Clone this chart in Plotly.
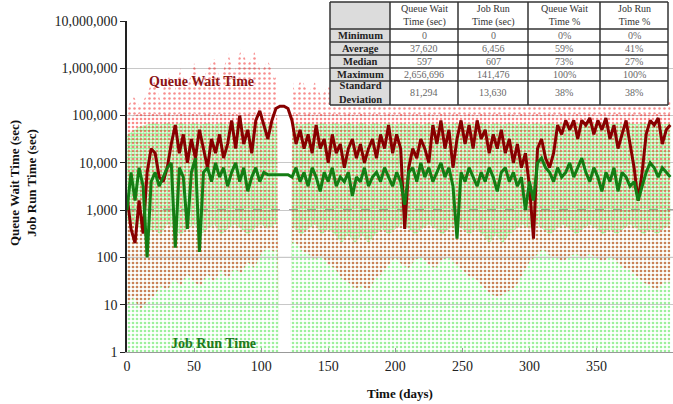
import plotly.graph_objects as go

# ---------------- data ----------------
# days at which the scatter-cloud envelopes were read off the picture
cloud_days = [0, 5, 10, 15, 20, 25, 30, 35, 40, 45,
              50, 55, 60, 65, 70, 75, 80, 85, 90, 95,
              100, 105, 110, 112, 113, 122, 123, 125, 130, 135,
              140, 145, 150, 155, 160, 165, 170, 175, 180, 185,
              190, 195, 200, 205, 210, 215, 220, 225, 230, 235,
              240, 245, 250, 255, 260, 265, 270, 275, 280, 285,
              290, 295, 300, 305, 310, 315, 320, 325, 330, 335,
              340, 345, 350, 355, 360, 365, 370, 375, 380, 385,
              390, 395, 400, 405]

# job run time points: lower edge of the dense band
green_dense_low = [600, 500, 400, 300, 400, 300, 500, 400, 300, 400,
                   500, 300, 400, 500, 300, 400, 500, 400, 300, 400,
                   500, 400, 500, 500, 1, 1, 500, 400, 300, 400,
                   500, 300, 400, 300, 200, 300, 200, 300, 200, 300,
                   400, 300, 400, 500, 400, 300, 400, 500, 400, 300,
                   400, 500, 400, 300, 400, 300, 200, 300, 200, 300,
                   400, 500, 400, 500, 400, 300, 400, 500, 400, 300,
                   400, 500, 400, 300, 400, 300, 400, 500, 400, 300,
                   400, 300, 400, 500]
# job run time points: upper edge
green_top = [40000, 50000, 60000, 65000, 70000, 65000, 70000, 65000, 70000, 65000,
             70000, 65000, 70000, 65000, 70000, 65000, 70000, 65000, 70000, 65000,
             70000, 65000, 70000, 65000, 1, 1, 65000, 70000, 65000, 70000,
             65000, 70000, 65000, 70000, 65000, 70000, 65000, 70000, 65000, 70000,
             65000, 70000, 65000, 70000, 65000, 70000, 65000, 70000, 65000, 70000,
             65000, 70000, 65000, 70000, 65000, 70000, 65000, 70000, 65000, 70000,
             65000, 70000, 65000, 70000, 65000, 70000, 65000, 70000, 65000, 70000,
             65000, 70000, 65000, 70000, 65000, 70000, 65000, 70000, 65000, 70000,
             65000, 70000, 65000, 70000]
# queue wait points: lower edge
red_low = [10, 14, 8, 12, 15, 25, 20, 35, 25, 45,
           30, 25, 45, 30, 55, 35, 60, 45, 80, 60,
           120, 160, 130, 150, 1, 1, 200, 220, 140, 120,
           90, 110, 70, 60, 35, 30, 22, 25, 20, 35,
           45, 70, 100, 70, 60, 90, 100, 70, 60, 90,
           100, 70, 55, 40, 35, 25, 18, 15, 16, 20,
           25, 45, 80, 110, 150, 110, 100, 80, 110, 120,
           90, 120, 100, 80, 110, 80, 60, 55, 40, 30,
           25, 20, 30, 30]
# queue wait points: top of the dense band
red_top = [90000, 100000, 110000, 100000, 110000, 100000, 110000, 100000, 110000, 100000,
           110000, 100000, 110000, 100000, 110000, 100000, 110000, 100000, 110000, 100000,
           110000, 100000, 110000, 100000, 1, 1, 100000, 110000, 100000, 110000,
           100000, 110000, 100000, 110000, 100000, 110000, 100000, 110000, 100000, 110000,
           100000, 110000, 100000, 110000, 100000, 110000, 100000, 110000, 100000, 110000,
           100000, 110000, 100000, 110000, 100000, 110000, 100000, 110000, 100000, 110000,
           100000, 110000, 100000, 110000, 100000, 110000, 100000, 110000, 100000, 110000,
           100000, 110000, 100000, 110000, 100000, 110000, 100000, 110000, 100000, 110000,
           100000, 110000, 100000, 110000]
# queue wait points: sparse spikes above the band
red_spike = [150000, 250000, 150000, 300000, 600000, 200000, 900000, 300000, 1000000, 400000,
             1300000, 400000, 1000000, 1600000, 500000, 2200000, 800000, 2600000, 1200000, 2200000,
             800000, 1500000, 600000, 900000, 1, 1, 700000, 300000, 600000, 300000,
             500000, 250000, 450000, 250000, 400000, 250000, 350000, 250000, 300000, 250000,
             300000, 200000, 300000, 200000, 300000, 200000, 300000, 200000, 300000, 200000,
             300000, 200000, 300000, 200000, 300000, 200000, 300000, 200000, 300000, 200000,
             300000, 200000, 300000, 200000, 300000, 200000, 300000, 200000, 300000, 200000,
             300000, 200000, 300000, 200000, 300000, 200000, 300000, 200000, 300000, 200000,
             300000, 200000, 300000, 200000]

# daily averages (lines), read every 3 days
line_days = list(range(0, 406, 3))
queue_wait_avg = [2000, 400, 200, 1600, 320, 6300, 20000, 16000, 5000, 4000,
                  7900, 25000, 63000, 16000, 40000, 10000, 32000, 12600, 50000, 20000,
                  7900, 32000, 16000, 40000, 12600, 25000, 79000, 20000, 100000, 25000,
                  50000, 16000, 79000, 126000, 63000, 32000, 79000, 141000, 158000, 158000,
                  141000, 79000, 25000, 50000, 20000, 40000, 16000, 63000, 20000, 32000,
                  10000, 40000, 16000, 25000, 7900, 20000, 32000, 12600, 25000, 10000,
                  20000, 32000, 12600, 40000, 20000, 63000, 16000, 40000, 20000, 400,
                  7900, 20000, 12600, 32000, 20000, 10000, 63000, 25000, 79000, 20000,
                  50000, 7900, 32000, 79000, 25000, 63000, 20000, 79000, 32000, 50000,
                  16000, 40000, 20000, 50000, 16000, 32000, 10000, 25000, 7900, 16000,
                  3200, 250, 20000, 32000, 12600, 7900, 16000, 63000, 40000, 79000,
                  50000, 79000, 32000, 79000, 63000, 89000, 40000, 79000, 50000, 89000,
                  32000, 63000, 20000, 40000, 79000, 25000, 7900, 1600, 6300, 40000,
                  79000, 63000, 89000, 25000, 50000, 63000]
job_run_avg = [1000, 6300, 1600, 7900, 3200, 100, 4000, 6300, 3200, 5000,
               7900, 10000, 160, 7900, 5000, 400, 6300, 12600, 130, 6300,
               7900, 4000, 10000, 5000, 7900, 3200, 6300, 10000, 4000, 7900,
               2500, 5000, 7900, 4000, 6300, 5600, 5600, 5600, 5600, 5600,
               5600, 5000, 7900, 4000, 6300, 3200, 7900, 5000, 2500, 6300,
               4000, 7900, 3200, 5000, 4000, 6300, 2000, 5000, 4000, 7900,
               3200, 5000, 6300, 4000, 7900, 5000, 3200, 6300, 4000, 1300,
               6300, 7900, 4000, 10000, 5000, 7900, 4000, 6300, 10000, 5000,
               7900, 3200, 250, 6300, 4000, 7900, 5000, 3200, 6300, 4000,
               7900, 5000, 2500, 6300, 7900, 4000, 6300, 3200, 5000, 1000,
               4000, 1600, 10000, 12600, 7900, 6300, 4000, 7900, 5000, 6300,
               10000, 5000, 7900, 12600, 6300, 4000, 7900, 5000, 2500, 6300,
               4000, 7900, 2500, 6300, 5000, 3200, 4000, 1600, 3200, 6300,
               10000, 7900, 5000, 7900, 6300, 5000]

y_tick_vals = [1, 10, 100, 1000, 10000, 100000, 1000000, 10000000]
y_tick_text = ["1", "10", "100", "1,000", "10,000", "100,000", "1,000,000", "10,000,000"]
x_tick_vals = [0, 50, 100, 150, 200, 250, 300, 350]

table_cols = ["Queue Wait<br>Time (sec)", "Job Run<br>Time (sec)", "Queue Wait<br>Time %", "Job Run<br>Time %"]
table_rows = ["Minimum", "Average", "Median", "Maximum", "Standard<br>Deviation"]
queue_wait_stats = ["0", "37,620", "597", "2,656,696", "81,294"]
job_run_stats = ["0", "6,456", "607", "141,476", "13,630"]
queue_wait_pct = ["0%", "59%", "73%", "100%", "38%"]
job_run_pct = ["0%", "41%", "27%", "100%", "38%"]

# ---------------- layout geometry ----------------
W, H = 673, 404
ML, MR, MT, MB = 127, 0, 21, 52
PW, PH = W - ML - MR, H - MT - MB
SERIF = "Liberation Serif, Times New Roman, serif"


def px(x):
    return (x - ML) / PW


def py(y):
    return (H - MB - y) / PH


fig = go.Figure()


def band(x, lo, hi, color, size, solidity):
    fig.add_trace(go.Scatter(x=x, y=lo, mode="lines", line=dict(width=0),
                             hoverinfo="skip", showlegend=False))
    fig.add_trace(go.Scatter(x=x, y=hi, mode="lines", line=dict(width=0),
                             fill="tonexty", fillcolor="rgba(0,0,0,0)",
                             fillpattern=dict(shape=".", fgcolor=color,
                                              bgcolor="rgba(0,0,0,0)",
                                              size=size, solidity=solidity),
                             hoverinfo="skip", showlegend=False))


floor_vals = [1 for _ in cloud_days]
band(cloud_days, floor_vals, green_dense_low, "rgb(60,225,60)", 4, 0.35)
band(cloud_days, green_dense_low, green_top, "rgb(40,235,40)", 3, 0.6)
band(cloud_days, red_low, red_top, "rgb(245,20,20)", 4, 0.33)
band(cloud_days, red_top, red_spike, "rgb(240,30,30)", 5, 0.2)

fig.add_trace(go.Scatter(x=line_days, y=queue_wait_avg, mode="lines",
                         line=dict(color="rgb(135,0,0)", width=3),
                         showlegend=False))
fig.add_trace(go.Scatter(x=line_days, y=job_run_avg, mode="lines",
                         line=dict(color="rgb(20,125,20)", width=3),
                         showlegend=False))

shapes = []
# special grid lines
shapes.append(dict(type="line", xref="paper", yref="y", x0=0, x1=1, y0=1000, y1=1000,
                   line=dict(color="black", width=1, dash="dash"), layer="below"))
shapes.append(dict(type="line", xref="paper", yref="y", x0=0, x1=1, y0=100, y1=100,
                   line=dict(color="#555", width=1), layer="below"))

# ---- table drawn as shapes ----
col_edges = [330, 390, 458, 528, 600, 668]
row_edges = [2, 29, 42, 55, 68, 81, 105]
shapes.append(dict(type="rect", xref="paper", yref="paper",
                   x0=px(col_edges[0]), x1=px(col_edges[-1]),
                   y0=py(row_edges[-1]), y1=py(row_edges[0]),
                   fillcolor="white", line=dict(width=0)))
shapes.append(dict(type="rect", xref="paper", yref="paper",
                   x0=px(col_edges[0]), x1=px(col_edges[1]),
                   y0=py(row_edges[-1]), y1=py(row_edges[0]),
                   fillcolor="#dcdcdc", line=dict(width=0)))
for xe in col_edges:
    shapes.append(dict(type="line", xref="paper", yref="paper", x0=px(xe), x1=px(xe),
                       y0=py(row_edges[-1]), y1=py(row_edges[0]),
                       line=dict(color="#333", width=1.5)))
for ye in row_edges:
    shapes.append(dict(type="line", xref="paper", yref="paper",
                       x0=px(col_edges[0]), x1=px(col_edges[-1]), y0=py(ye), y1=py(ye),
                       line=dict(color="#333", width=1.5)))

annotations = []


def label(x, y, text, size, color, angle=0):
    annotations.append(dict(x=px(x), y=py(y), xref="paper", yref="paper", text=text,
                            xanchor="center", yanchor="middle", showarrow=False,
                            textangle=angle,
                            font=dict(family=SERIF, size=size, color=color)))


cols_data = [queue_wait_stats, job_run_stats, queue_wait_pct, job_run_pct]
for ci, head in enumerate(table_cols):
    cx = (col_edges[ci + 1] + col_edges[ci + 2]) / 2
    label(cx, (row_edges[0] + row_edges[1]) / 2, head, 10, "#333")
    for ri, val in enumerate(cols_data[ci]):
        label(cx, (row_edges[ri + 1] + row_edges[ri + 2]) / 2, val, 10, "#666")
for ri, lab in enumerate(table_rows):
    label((col_edges[0] + col_edges[1]) / 2, (row_edges[ri + 1] + row_edges[ri + 2]) / 2,
          "<b>" + lab + "</b>", 10.5, "#222")

# chart labels
label(201, 81, "<b>Queue Wait Time</b>", 14, "rgb(140,20,20)")
label(213, 343, "<b>Job Run Time</b>", 14, "rgb(30,120,30)")
label(23, 183, "<b>Queue Wait Time (sec)<br>Job Run Time (sec)</b>", 13, "#111", -90)
label(400, 393, "<b>Time (days)</b>", 13, "#111")

fig.update_layout(
    width=W, height=H,
    margin=dict(l=ML, r=MR, t=MT, b=MB, pad=0),
    paper_bgcolor="white", plot_bgcolor="white",
    showlegend=False,
    shapes=shapes, annotations=annotations,
    xaxis=dict(range=[0, 407], tickvals=x_tick_vals, showgrid=False, zeroline=False,
               showline=True, linecolor="#999", linewidth=1,
               ticks="inside", ticklen=4, tickcolor="#999",
               ticklabelstandoff=1,
               tickfont=dict(family=SERIF, size=14, color="#222")),
    yaxis=dict(type="log", range=[0, 7], tickvals=y_tick_vals, ticktext=y_tick_text,
               showgrid=True, gridcolor="#c8c8c8", gridwidth=1, zeroline=False,
               showline=True, linecolor="#222", linewidth=1.5,
               ticks="outside", ticklen=5, tickcolor="#222",
               tickfont=dict(family=SERIF, size=14, color="#222")),
)

fig.write_html("out.html", config={"displayModeBar": False},
               post_script="document.body.style.margin='0px';")
